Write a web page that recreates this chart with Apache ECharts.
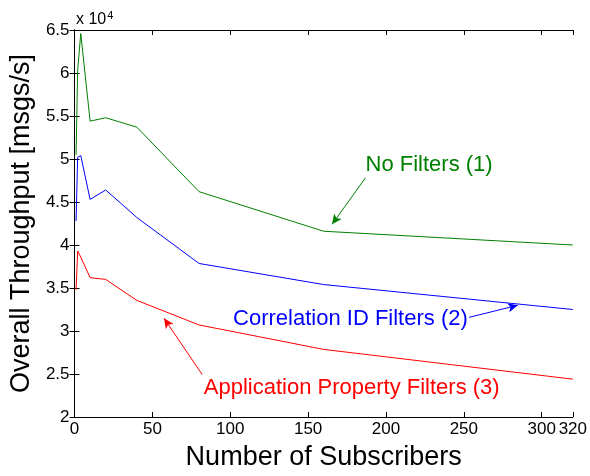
<!DOCTYPE html>
<html>
<head>
<meta charset="utf-8">
<script src="https://cdn.jsdelivr.net/npm/echarts@6/dist/echarts.min.js"></script>
<style>
html,body{margin:0;padding:0;background:#fff;}
#c{width:590px;height:476px;}
</style>
</head>
<body>
<div id="c"></div>
<script>
var subscribers = [1, 2, 4, 10, 20, 40, 80, 160, 320];
var noFilters = [50500, 60300, 64600, 54400, 54800, 53700, 46200, 41600, 40000];
var correlationId = [42800, 50200, 50400, 45300, 46400, 43200, 37850, 35400, 32500];
var appProperty = [34800, 39300, 38600, 36200, 36000, 33560, 30700, 27860, 24400];
var xTickInterval = 50;
var yTickInterval = 5000;

var FONT = '"Liberation Sans", Arial, Helvetica, sans-serif';
var GREEN = '#008000', BLUE = '#0000ff', RED = '#ff0000';

function pairs(xs, ys) { return xs.map(function (x, i) { return [x, ys[i]]; }); }

function arrow(color, from, to) {
  return {
    silent: true, symbol: ['none', 'arrow'], symbolSize: [7, 10],
    label: { show: false },
    lineStyle: { color: color, width: 1, type: 'solid' },
    data: [[{ coord: from }, { coord: to }]]
  };
}
function note(color, text, at) {
  return {
    silent: true, symbol: 'circle', symbolSize: 0,
    data: [{ coord: at, value: text }],
    label: {
      show: true, position: 'right', distance: 0, formatter: text,
      color: color, fontFamily: FONT, fontSize: 22, align: 'left', verticalAlign: 'middle'
    }
  };
}

var chart = echarts.init(document.getElementById('c'), null, { renderer: 'canvas' });
var axisLine = { show: true, lineStyle: { color: '#000', width: 1 } };
var tick = { show: true, inside: true, length: 5, lineStyle: { color: '#000' } };
chart.setOption({
  animation: false,
  backgroundColor: '#fff',
  title: {
    text: 'x 10{s|4}', left: 71, top: 5,
    textStyle: {
      fontFamily: FONT, fontSize: 16, fontWeight: 'normal', color: '#000',
      rich: { s: { fontFamily: FONT, fontSize: 11, color: '#000', verticalAlign: 'top', padding: [0, 0, 8, 1] } }
    }
  },
  grid: { left: 73, right: 16, top: 30, bottom: 51, containLabel: false },
  xAxis: [{
    type: 'value', min: 0, max: 320, interval: xTickInterval,
    name: 'Number of Subscribers', nameLocation: 'middle', nameGap: 27,
    nameTextStyle: { fontFamily: FONT, fontSize: 27, color: '#000' },
    axisLine: axisLine, axisTick: tick, splitLine: { show: false },
    axisLabel: { fontFamily: FONT, fontSize: 17, color: '#000', margin: 4, showMaxLabel: true, showMinLabel: true }
  }, {
    type: 'value', position: 'top', min: 0, max: 320, interval: xTickInterval,
    axisLine: axisLine, axisTick: tick, axisLabel: { show: false }, splitLine: { show: false }
  }],
  yAxis: [{
    type: 'value', min: 20000, max: 65000, interval: yTickInterval,
    name: 'Overall Throughput [msgs/s]', nameLocation: 'middle', nameGap: 33,
    nameTextStyle: { fontFamily: FONT, fontSize: 27, color: '#000' },
    axisLine: axisLine, axisTick: tick, splitLine: { show: false },
    axisLabel: { fontFamily: FONT, fontSize: 17, color: '#000', margin: 5,
      formatter: function (v) { return String(+(v / 10000).toFixed(1)); } }
  }, {
    type: 'value', position: 'right', min: 20000, max: 65000, interval: yTickInterval,
    axisLine: axisLine, axisTick: tick, axisLabel: { show: false }, splitLine: { show: false }
  }],
  series: [
    { type: 'line', name: 'No Filters (1)', data: pairs(subscribers, noFilters), showSymbol: false,
      lineStyle: { color: GREEN, width: 1 }, itemStyle: { color: GREEN } },
    { type: 'line', name: 'Correlation ID Filters (2)', data: pairs(subscribers, correlationId), showSymbol: false,
      lineStyle: { color: BLUE, width: 1 }, itemStyle: { color: BLUE } },
    { type: 'line', name: 'Application Property Filters (3)', data: pairs(subscribers, appProperty), showSymbol: false,
      lineStyle: { color: RED, width: 1 }, itemStyle: { color: RED } }
  ]
});

// annotations (arrows + labels) in data coordinates
chart.setOption({
  series: [
    { markLine: arrow(GREEN, [186.8, 47800], [165.4, 42410]), markPoint: note(GREEN, 'No Filters (1)', [186.9, 49280]) },
    { markLine: arrow(BLUE, [253.4, 31590], [284.7, 32990]), markPoint: note(BLUE, 'Correlation ID Filters (2)', [101.8, 31360]) },
    { markLine: arrow(RED, [82.0, 24930], [57.5, 31470]), markPoint: note(RED, 'Application Property Filters (3)', [83.0, 23360]) }
  ]
});
</script>
</body>
</html>
